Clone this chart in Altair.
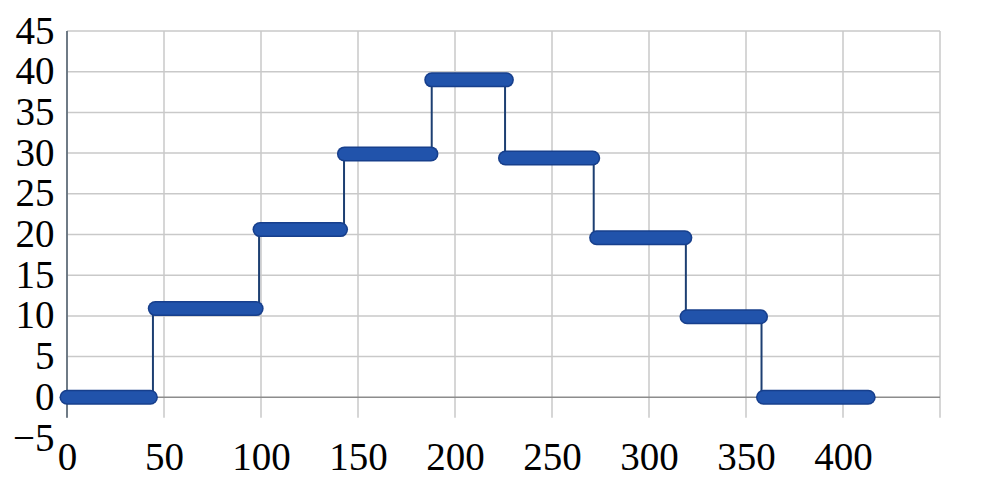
import altair as alt
import pandas as pd

# Step levels (y) and the x-range each plateau of points covers
levels = [0.0, 10.9, 20.6, 29.9, 39.0, 29.4, 19.6, 9.9, 0.0]
seg_start = [0.0, 45.5, 99.5, 143.0, 188.0, 226.0, 273.0, 319.6, 359.0]
seg_end = [43.0, 97.5, 141.0, 187.6, 226.5, 271.0, 318.5, 357.5, 413.0]
# x positions of the vertical transitions between plateaus
step_x = [44.3, 99.0, 142.8, 188.0, 225.8, 271.5, 319.0, 358.0]

x_ticks = [0, 50, 100, 150, 200, 250, 300, 350, 400]
y_ticks = [-5, 0, 5, 10, 15, 20, 25, 30, 35, 40, 45]
grid_x = [0, 50, 100, 150, 200, 250, 300, 350, 400, 450]
grid_y = [5, 10, 15, 20, 25, 30, 35, 40, 45]

seg_df = pd.DataFrame({"x": seg_start, "x2": seg_end, "y": levels})
step_df = pd.DataFrame({"x": step_x, "y": levels[:-1], "y2": levels[1:]})
vgrid_df = pd.DataFrame({"x": grid_x, "y": [-2.5] * len(grid_x), "y2": [45] * len(grid_x)})
hgrid_df = pd.DataFrame({"y": grid_y, "x": [0] * len(grid_y), "x2": [450] * len(grid_y)})
zero_df = pd.DataFrame({"y": [0], "x": [0], "x2": [450]})
yaxis_df = pd.DataFrame({"x": [0], "y": [-2.5], "y2": [45]})

xs = alt.Scale(domain=[0, 450], nice=False, zero=False)
ys = alt.Scale(domain=[-5, 45], nice=False, zero=False)
x_axis = alt.Axis(values=x_ticks, title=None, grid=False, ticks=False,
                  domain=False, labelPadding=0, labelFlush=False)
y_axis = alt.Axis(values=y_ticks, title=None, grid=False, ticks=False,
                  domain=False, labelPadding=13)


def X():
    return alt.X("x:Q", scale=xs, axis=x_axis)


def Y():
    return alt.Y("y:Q", scale=ys, axis=y_axis)


vgrid = alt.Chart(vgrid_df).mark_rule(color="#c9c9c9", strokeWidth=1.5).encode(
    x=X(), y=Y(), y2="y2:Q",
)

hgrid = alt.Chart(hgrid_df).mark_rule(color="#c9c9c9", strokeWidth=1.5).encode(
    x=X(), x2="x2:Q", y=Y(),
)

zero = alt.Chart(zero_df).mark_rule(color="#8c8c8c", strokeWidth=1.5).encode(
    x=X(), x2="x2:Q", y=Y(),
)

yaxis_line = alt.Chart(yaxis_df).mark_rule(color="#4d5c6b", strokeWidth=1.5).encode(
    x=X(), y=Y(), y2="y2:Q",
)

steps = alt.Chart(step_df).mark_rule(color="#1d3f72", strokeWidth=2).encode(
    x=X(), y=Y(), y2="y2:Q",
)

plateaus_edge = alt.Chart(seg_df).mark_rule(color="#173f8c", strokeWidth=15, strokeCap="round").encode(
    x=X(), x2="x2:Q", y=Y(),
)

plateaus = alt.Chart(seg_df).mark_rule(color="#2153ab", strokeWidth=12, strokeCap="round").encode(
    x=X(), x2="x2:Q", y=Y(),
)

chart = alt.layer(vgrid, hgrid, zero, yaxis_line, steps, plateaus_edge, plateaus).properties(
    width=873,
    height=407,
    autosize=alt.AutoSizeParams(type="none"),
    padding={"left": 59, "top": 23, "right": 56, "bottom": 42},
).configure_view(
    stroke=None
).configure_axis(
    labelFont="Liberation Serif",
    labelFontSize=39,
    labelColor="#000000",
)

chart.save("out.html", embed_options={"renderer": "svg", "actions": False})
